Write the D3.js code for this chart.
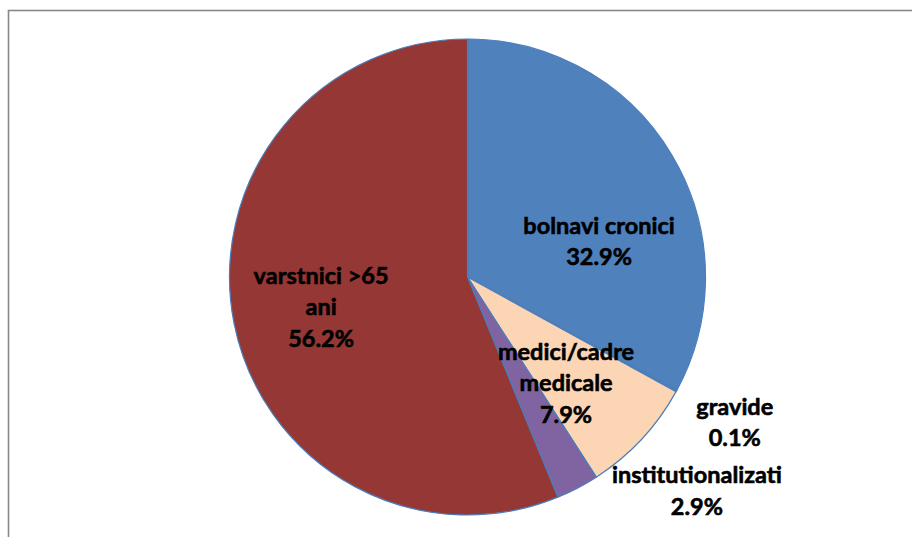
<!DOCTYPE html>
<html>
<head>
<meta charset="utf-8">
<script src="https://cdn.jsdelivr.net/npm/d3@7"></script>
<style>
  body { margin: 0; background: #fff; }
  svg { display: block; }
</style>
</head>
<body>
<svg class="chart"></svg>
<script>
// slice order clockwise from 12 o'clock
const categories = ['bolnavi cronici', 'gravide', 'medici/cadre medicale', 'institutionalizati', 'varstnici >65 ani'];
const values = [32.9, 0.1, 7.9, 2.9, 56.2];
const colors = ['#4f81bd', '#4f81bd', '#fcd5b5', '#8064a2', '#953735'];
// label text split into lines, as Excel wrapped them
const labelLines = [
  ['bolnavi cronici'],
  ['gravide'],
  ['medici/cadre', 'medicale'],
  ['institutionalizati'],
  ['varstnici >65', 'ani']
];

// label placement: angle (deg, clockwise from top) and radius as share of R
const labelPlace = [
  { a: 74.7, r: 0.573 },
  { a: 118.5, r: 1.278 },
  { a: 137.1, r: 0.608 },
  { a: 133.0, r: 1.318 },
  { a: 258.4, r: 0.628 }
];

const width = 912;
const height = 537;
const cx = 467.5;
const cy = 277;
const R = 238;
const lineH = 31.5;

const svg = d3.select('.chart')
  .attr('width', width)
  .attr('height', height);

// chart area frame (runs off the bottom/right of the picture)
svg.append('rect')
  .attr('x', 8.5)
  .attr('y', 10.5)
  .attr('width', 960)
  .attr('height', 600)
  .attr('fill', 'none')
  .attr('stroke', '#878787')
  .attr('stroke-width', 1.6);

const data = categories.map((c, i) => ({ name: c, value: values[i], color: colors[i], lines: labelLines[i] }));

const pie = d3.pie().sort(null).value(d => d.value);
const arc = d3.arc().innerRadius(0).outerRadius(R);
const arcs = pie(data);

const g = svg.append('g')
  .attr('transform', `translate(${cx}, ${cy})`);

g.selectAll('path')
  .data(arcs)
  .enter()
  .append('path')
  .attr('d', arc)
  .attr('fill', d => d.data.color)
  .attr('stroke', '#4a7ebb')
  .attr('stroke-width', 1.2)
  .attr('stroke-linejoin', 'round');

g.selectAll('text')
  .data(arcs)
  .enter()
  .append('text')
  .attr('text-anchor', 'middle')
  .attr('font-family', 'Lato, "Open Sans", sans-serif')
  .attr('font-weight', 'bold')
  .attr('font-size', '23.5px')
  .attr('fill', '#000')
  .attr('stroke', '#000')
  .attr('stroke-width', 0.6)
  .each(function(d, i) {
    const p = labelPlace[i];
    const ang = p.a * Math.PI / 180;
    const x = Math.sin(ang) * p.r * R;
    const y = -Math.cos(ang) * p.r * R;
    const lines = d.data.lines.concat([d3.format('.1f')(d.data.value) + '%']);
    const top = y - (lines.length - 1) * lineH / 2;
    const t = d3.select(this);
    lines.forEach((ln, k) => {
      t.append('tspan')
        .attr('x', x)
        .attr('y', top + k * lineH)
        .attr('dy', '0.35em')
        .text(ln);
    });
  });
</script>
</body>
</html>
